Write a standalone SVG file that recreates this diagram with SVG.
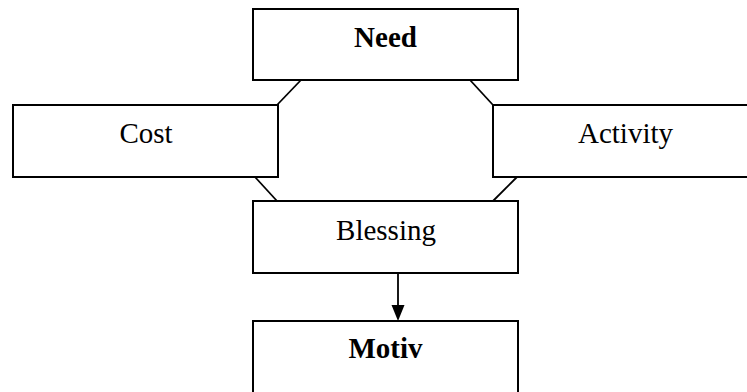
<svg xmlns="http://www.w3.org/2000/svg" width="747" height="392" viewBox="0 0 747 392">
<style>
.box{fill:#fff;stroke:#000;stroke-width:2}
.t{font-family:"Liberation Serif","Times New Roman",serif;font-size:29px;fill:#000;text-anchor:middle}
.b{font-weight:bold}
.c{stroke:#000;stroke-width:1.8;fill:none}
</style>
<rect width="747" height="392" fill="#fff"/>
<g id="connectors">
<line class="c" x1="301" y1="80" x2="277" y2="105"/>
<line class="c" x1="470" y1="80" x2="493" y2="105"/>
<line class="c" x1="255" y1="177" x2="277" y2="201"/>
<line class="c" x1="517" y1="177" x2="493" y2="201"/>
<line class="c" x1="398" y1="273" x2="398" y2="306"/>
<polygon points="391.5,305 404.5,305 398,321" fill="#000"/>
</g>
<g id="need"><rect class="box" x="253" y="9" width="265" height="71"/><text class="t b" x="385.5" y="47">Need</text></g>
<g id="cost"><rect class="box" x="13" y="105" width="265" height="72"/><text class="t" x="146" y="143">Cost</text></g>
<g id="activity"><rect class="box" x="493" y="105" width="265" height="72"/><text class="t" x="625.5" y="143">Activity</text></g>
<g id="blessing"><rect class="box" x="253" y="201" width="265" height="72"/><text class="t" x="386" y="240">Blessing</text></g>
<g id="motiv"><rect class="box" x="253" y="321" width="265" height="80"/><text class="t b" x="385.5" y="358">Motiv</text></g>
</svg>
